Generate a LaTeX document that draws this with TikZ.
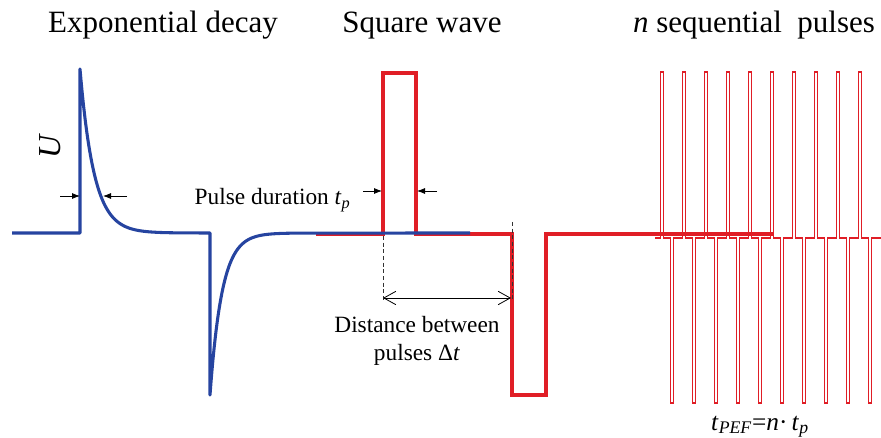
\documentclass[tikz,border=0pt]{standalone}
\usepackage{fontspec}
\setmainfont{Liberation Serif}
\usetikzlibrary{arrows.meta}
\definecolor{wblue}{RGB}{38,68,160}
\definecolor{wred}{RGB}{224,30,38}
\begin{document}
\begin{tikzpicture}[x=0.75pt,y=-0.75pt,
 bluewave/.style={wblue,line width=2.3pt,line join=round},
 redwave/.style={wred,line width=2.3pt},
 thinred/.style={wred,line width=0.8pt},
 dimarrow/.style={black,line width=0.6pt,-{Latex[length=6pt,width=4.5pt]}},
 guide/.style={black!80,line width=0.6pt,dash pattern=on 3pt off 2pt},
 ttl/.style={font=\fontsize{23.25}{28}\selectfont,anchor=base},
 lbl/.style={font=\fontsize{17.5}{21}\selectfont}]
\useasboundingbox (0,0) rectangle (881,438);

% thin sequential pulses
\draw[thinred] (655,238) \foreach \i in {0,...,9}{
  -- ({660.5+21.95*\i},238) -- ({660.5+21.95*\i},72) -- ({663.5+21.95*\i},72) -- ({663.5+21.95*\i},238)
  -- ({670.5+21.95*\i},238) -- ({670.5+21.95*\i},403) -- ({673.5+21.95*\i},403) -- ({673.5+21.95*\i},238)} -- (881,238);

% red square wave
\draw[redwave] (316,234) -- (383,234) -- (383,73) -- (416,73) -- (416,234) -- (512,234)
  -- (512,395) -- (546,395) -- (546,234) -- (773,234);

% blue exponential decay
\draw[bluewave] (12,233) -- (80,233) -- (80,69)
  -- plot[domain=80:210,samples=120] (\x,{233-164*exp(-(\x-80)/14)})
  -- (210,395)
  -- plot[domain=210:300,samples=90] (\x,{233+162*exp(-(\x-210)/12)})
  -- (470,233);

% guides
\coordinate (gA1) at (383,236); \coordinate (gA2) at (383,301);
\coordinate (gB1) at (512,222); \coordinate (gB2) at (512,301);
\draw[guide] (gA1) -- (gA2);
\draw[guide] (gB1) -- (gB2);
\coordinate (dL) at (383,298); \coordinate (dR) at (511,298);
\draw[black,line width=0.6pt,{Straight Barb[length=9pt,width=10pt]}-{Straight Barb[length=9pt,width=10pt]}] (dL) -- (dR);

% pulse width markers
\coordinate (a1) at (60,196); \coordinate (a1t) at (80,196);
\coordinate (a2) at (127,196); \coordinate (a2t) at (103,196);
\coordinate (a3) at (363,191); \coordinate (a3t) at (382,191);
\coordinate (a4) at (437,191); \coordinate (a4t) at (417,191);
\draw[dimarrow] (a1) -- (a1t);
\draw[dimarrow] (a2) -- (a2t);
\draw[dimarrow] (a3) -- (a3t);
\draw[dimarrow] (a4) -- (a4t);

% texts
\node[ttl] (t1) at (163,33) {Exponential decay};
\node[ttl] (t2) at (422,33) {Square wave};
\node[ttl] (t3) at (754,33) {\textit{n} sequential\ \ pulses};
\node[font=\fontsize{24}{28}\selectfont\itshape,rotate=90] (u) at (50,147) {U};
\node[lbl,anchor=base west] (pd) at (190,205) {Pulse duration \textit{t}\textsubscript{\textit{p}}};
\node[lbl,align=center] (dist) at (417,341) {Distance between\\pulses Δ\textit{t}};
\node[font=\fontsize{19}{22}\selectfont,anchor=base] (tpef) at (760,430) {\textit{t}\textsubscript{\textit{PEF}}=\textit{n}·\,\textit{t}\textsubscript{\textit{p}}};
\end{tikzpicture}
\end{document}
